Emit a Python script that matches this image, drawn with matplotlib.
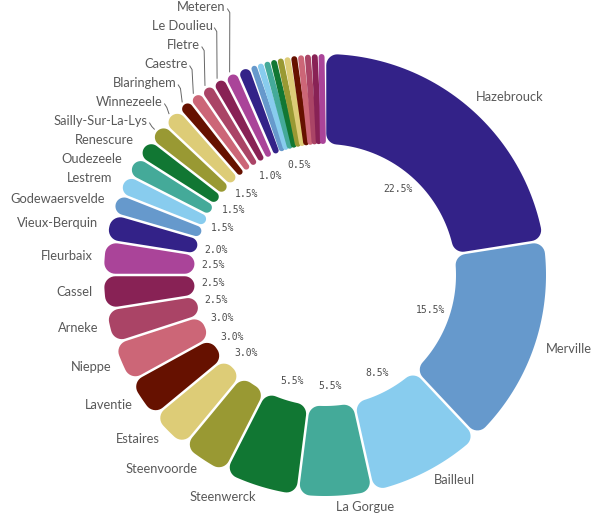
import numpy as np
import matplotlib
matplotlib.use("Agg")
import matplotlib.pyplot as plt
from matplotlib.patches import Polygon

# slice values (percent of total), clockwise from 12 o'clock
cities = ["Hazebrouck", "Merville", "Bailleul", "La Gorgue", "Steenwerck",
          "Steenvoorde", "Estaires", "Laventie", "Nieppe", "Arneke", "Cassel",
          "Fleurbaix", "Vieux-Berquin", "Godewaersvelde", "Lestrem", "Oudezeele",
          "Renescure", "Sailly-Sur-La-Lys", "Winnezeele", "Blaringhem", "Caestre",
          "Fletre", "Le Doulieu", "Meteren"]
values = [22.5, 15.5, 8.5, 5.5, 5.5, 3.5, 3.0, 3.0, 3.0, 2.5, 2.5, 2.5, 2.0,
          1.5, 1.5, 1.5, 1.5, 1.5, 1.5, 1.0, 1.0, 1.0, 1.0, 1.0]
# small slices without a visible name
other_values = [1.0, 0.5, 0.5, 0.5, 0.5, 0.5, 0.5, 0.5, 0.5, 0.5, 0.5, 0.5]

# slices whose % label is drawn (the chart drops the colliding ones)
pct_labelled = [0, 1, 2, 3, 4, 6, 7, 8, 9, 10, 11, 12, 14, 16, 18, 22, 28]

palette = ["#332288", "#6699cc", "#88ccee", "#44aa99", "#117733", "#999933",
           "#ddcc77", "#661100", "#cc6677", "#aa4466", "#882255", "#aa4499"]

all_values = values + other_values
n = len(all_values)
colors = [palette[i % len(palette)] for i in range(n)]

# geometry in pixels
cx, cy = 325, 275
r_out, r_in = 221, 131
gap = 2.5
corner = 11

fig = plt.figure(figsize=(5.98, 5.13), dpi=100)
ax = fig.add_axes([0, 0, 1, 1])
ax.set_xlim(0, 598)
ax.set_ylim(513, 0)
ax.axis("off")


def on_circle(r, a):
    return np.array([r * np.sin(a), -r * np.cos(a)])


def fillet(C, P1, P2, rc, k=10):
    f1 = np.arctan2(P1[1] - C[1], P1[0] - C[0])
    f2 = np.arctan2(P2[1] - C[1], P2[0] - C[0])
    d = (f2 - f1 + np.pi) % (2 * np.pi) - np.pi
    f = f1 + d * np.linspace(0, 1, k)
    return np.column_stack([C[0] + rc * np.cos(f), C[1] + rc * np.sin(f)])


def corner_pts(a, sgn, R, rc, outer):
    e = gap / 2
    u = np.array([np.sin(a), -np.cos(a)])
    nv = np.array([np.cos(a), np.sin(a)])
    p = e + rc
    Rc = R - rc if outer else R + rc
    t = np.sqrt(Rc ** 2 - p ** 2)
    C = t * u + sgn * p * nv
    Ts = t * u + sgn * e * nv
    ta = a + sgn * np.arcsin(p / Rc)
    Ta = on_circle(R, ta)
    return C, Ts, Ta, ta


def radii(a0, a1):
    sh = np.sin((a1 - a0) / 2)
    e = gap / 2
    rc_o = min(corner, 0.999 * (r_out * sh - e) / (1 + sh))
    rc_i = min(corner, 0.999 * (r_in * sh - e) / (1 - sh))
    return rc_o, max(rc_i, 0.05)


def slice_outline(a0, a1):
    rc_o, rc_i = radii(a0, a1)
    Ci0, Tsi0, Tai0, ti0 = corner_pts(a0, 1, r_in, rc_i, False)
    Co0, Tso0, Tao0, to0 = corner_pts(a0, 1, r_out, rc_o, True)
    Co1, Tso1, Tao1, to1 = corner_pts(a1, -1, r_out, rc_o, True)
    Ci1, Tsi1, Tai1, ti1 = corner_pts(a1, -1, r_in, rc_i, False)
    parts = [np.array([Tsi0])]
    parts.append(fillet(Co0, Tso0, Tao0, rc_o))
    arc = np.linspace(to0, to1, 60)
    parts.append(np.column_stack([r_out * np.sin(arc), -r_out * np.cos(arc)]))
    parts.append(fillet(Co1, Tao1, Tso1, rc_o))
    parts.append(fillet(Ci1, Tsi1, Tai1, rc_i))
    arc = np.linspace(ti1, ti0, 40)
    parts.append(np.column_stack([r_in * np.sin(arc), -r_in * np.cos(arc)]))
    parts.append(fillet(Ci0, Tai0, Tsi0, rc_i))
    pts = np.vstack(parts)
    return pts + np.array([cx, cy])


total = sum(all_values)
ends = np.cumsum(all_values) / total * 2 * np.pi
starts = np.concatenate([[0], ends[:-1]])
mids = (starts + ends) / 2

for i in range(n):
    rc_o, _ = radii(starts[i], ends[i])
    if rc_o < 3:
        # very thin slice: rounded pill along the middle of the slice
        half = r_out * np.sin((ends[i] - starts[i]) / 2) - 0.5
        p0 = on_circle(r_in + half, mids[i]) + np.array([cx, cy])
        p1 = on_circle(r_out - half, mids[i]) + np.array([cx, cy])
        ax.plot([p0[0], p1[0]], [p0[1], p1[1]], color=colors[i],
                lw=2 * half * 0.72, solid_capstyle="round")
    else:
        ax.add_patch(Polygon(slice_outline(starts[i], ends[i]), closed=True,
                             facecolor=colors[i], edgecolor="none"))

# percent labels inside the hole
for i in pct_labelled:
    x, y = on_circle(112, mids[i]) + np.array([cx, cy])
    ax.text(x, y - 1, f"{all_values[i]:.1f}%", ha="center", va="center",
            fontsize=7, family="DejaVu Sans Mono", color="#4d4d4d")

# city labels outside, stacked upwards on the crowded left side
r_lab = 233
spacing = 19
prev_y = None
for i, name in enumerate(cities):
    m = mids[i]
    x = cx + r_lab * np.sin(m)
    y_nat = cy - r_lab * np.cos(m) - 1
    if m > np.pi:
        y = y_nat if prev_y is None else min(y_nat, prev_y - spacing)
        prev_y = y
        ha = "right"
    else:
        y = y_nat
        ha = "left"
    ax.text(x, y, name, ha=ha, va="center", fontsize=9.3, family="Lato",
            color="#595959")
    if y_nat - y > 0.5:
        ex, ey = on_circle(224, m) + np.array([cx, cy])
        ax.plot([x + 1.5, x + 4, ex], [y + 2, y + 6, ey], color="#666666",
                lw=0.7, solid_capstyle="butt")

fig.savefig("out.png", dpi=100)
